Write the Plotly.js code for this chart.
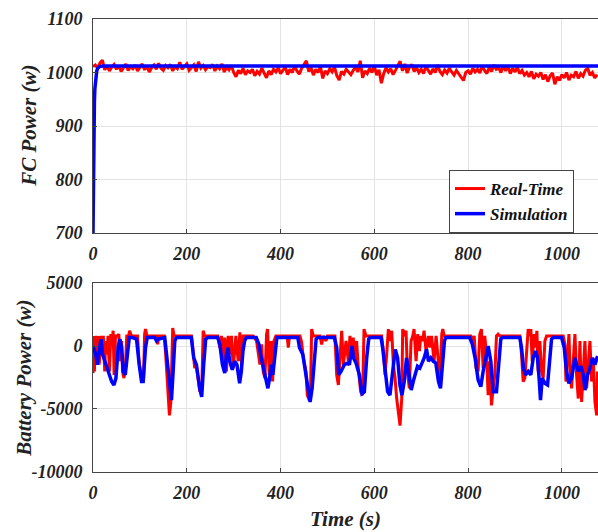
<!DOCTYPE html>
<html>
<head>
<meta charset="utf-8">
<script src="https://cdn.plot.ly/plotly-3.0.1.min.js"></script>
<style>html,body{margin:0;padding:0;background:#fff;}#chart{width:598px;height:532px;}</style>
</head>
<body>
<div id="chart"></div>
<script>
// ---------- DATA ----------
// FC power, real-time (sampled every 5 s from t = 0)
const fcSampleStep = 5;
const fcReal = [
  1011,1014,1008,1018,1023,1005,1012,1003,1010,1015,
  1006,1013,1002,1009,1016,1004,1011,1007,1014,1003,
  1010,1016,1005,1012,1001,1009,1014,1006,1017,1008,
  1004,1013,1009,1015,1003,1011,1007,1019,1006,1012,
  1016,1004,1010,1014,1002,1020,1008,1013,1005,1011,
  1009,1015,1003,1012,1007,1016,1001,1010,1005,1013,
  1000,992,1004,998,1008,996,1003,1000,1006,994,
  1002,997,1008,999,990,1003,996,1006,1001,1009,
  998,1004,1010,996,1006,1000,1012,1003,997,1008,
  1014,1022,1002,1009,995,1006,1000,1011,989,1003,
  998,1007,1001,1010,994,986,1002,997,1006,1000,
  996,1004,1010,1001,1022,990,1003,998,1008,1000,
  1012,995,1005,980,998,1009,1001,1007,996,1004,
  1013,1021,1003,1016,999,1010,1015,1002,1009,1000,
  1006,998,1011,1003,997,1007,1000,1014,1002,996,
  1005,999,1008,1001,995,1004,998,990,985,1000,
  1003,997,1008,1001,1006,999,1012,1004,998,1010,
  1002,1014,1006,1009,1000,1013,1003,1011,998,1008,
  1001,1010,998,1004,995,1000,992,1002,988,997,
  993,1000,987,996,983,994,999,978,992,985,
  996,990,1000,986,995,992,1002,989,998,993,
  1004,1008,995,1000,990,996
];
// FC power, simulation
const tFcSim = [0,1,2,3,4,6,8,10,14,20,1077];
const fcSim  = [700,830,900,945,970,993,1003,1008,1011,1012,1012];

// Battery power, real-time
const tBatReal = [0,1.5,3,5,7,9,11,13,15,17,20,22,25,27,30,32,35,38,40,43,45,48,52,55,58,61,63,66,69,72,76,78,82,95,98,101,104,108,110,112,115,136,138,140,152,155,158,160,163,166,168,170,173,210,214,217,220,224,228,232,235,238,266,270.5,274,277.6,281,284.7,288.3,291.9,295.4,299,304.7,309.7,313.2,316.8,320.3,341.7,348.8,356,359.5,363,366.6,370.2,372.3,375.9,379.4,383,385.8,390,414,416.5,419,441.4,445,448.5,454.2,457,461.3,464.2,466.3,469.9,484,487.7,491,497,500,516,519.7,523.3,526.8,530.4,534,539.6,544.6,548,551.6,555,558.7,562.2,565.8,570.8,575,578,582.2,615.6,619.2,622.8,626.3,629.9,633.4,637,640.6,644.1,647.7,651.2,654.8,658.4,660.5,664,667.6,670.5,674.7,678.3,681.9,684.7,689,692.5,696.1,699,703.2,706,710.3,715.3,718.9,722,727.4,731.7,736.7,740.2,743.8,746,748.8,805.7,810,813,817,821.3,824.9,828.4,832,835.5,839.1,842.7,846.2,849.8,853.3,856.9,860.5,864,867.6,910.3,913.9,917.4,921,924.5,928.1,931.7,933.8,936.6,940.9,943.8,946.6,949.5,953,956.6,960.1,963.7,967.3,1002.9,1006.4,1008.6,1012.1,1015,1017.8,1020.7,1024.2,1027.8,1031.3,1034.9,1038.5,1042,1045.6,1049.1,1052.7,1056.3,1059.8,1063.4,1066.9,1070.5,1074.1,1076];
const batReal = [-2150,800,-2020,400,800,-1210,800,-1480,-670,800,130,800,-2020,400,-670,800,-2020,940,130,1210,-2290,800,800,940,-1210,400,-2020,-2550,-1750,800,800,1210,800,800,-1210,-2020,-2690,-2550,940,1340,800,800,130,800,800,-670,-2820,-4440,-5510,-4440,-2020,1430,800,800,-670,-1750,-1480,-2820,-3630,-3360,1210,800,800,-130,800,-1480,670,-2020,800,-670,800,-1750,800,-1210,1080,-1480,800,800,400,-1480,130,-2020,-2550,940,1340,-2290,400,-2820,400,800,800,-130,800,800,270,-940,-2020,-3900,-4300,-3090,1340,800,800,130,800,400,800,800,-2290,-3090,-670,1210,-1480,400,-1210,800,-940,670,-1210,400,-1750,-3630,-3900,1340,800,800,-400,-2290,-670,1340,400,1210,-1480,-2550,-4170,-5240,-6320,-4170,1340,800,1210,-2020,-3360,400,800,1340,-1210,940,-400,800,400,1210,-400,800,-130,800,-1210,800,-1750,-2820,940,1340,800,800,400,800,-1750,-2020,940,1340,-1750,800,-670,-3900,-1210,-4710,-3360,-2290,800,940,800,800,-670,-2820,-2550,-940,1340,800,1340,-1210,940,-130,1210,-2020,400,-2020,-2550,400,800,800,130,-2820,-670,940,-2290,-3360,-1210,940,-2290,-4170,400,-4440,-2020,400,-3360,-1750,400,-2820,-940,-4440,-5510,-2020];

// Battery power, simulation
const tBatSim = [0,6,9,13.5,17,20.5,25.5,32.6,39.7,44.6,48.9,53.9,57.4,61,64.5,68.8,73,77.3,84.4,92.9,98.5,103.5,107,112,115.6,131.9,135.4,140,153,158,163.8,167.3,170.9,174.4,178,209.8,214.8,220.5,227.6,231.8,236,240.3,245,266,270.5,276,281,284.5,288,291.5,297,302,307,312.7,316.3,319.8,323.4,327,348.2,353.9,358.8,365.9,373,376.6,380.1,383.6,388.6,392.1,436.8,440.4,447.5,453.1,458.1,463,467.3,472.3,475.8,479.4,514.8,519.8,524,529,536,543.2,546.8,552.5,555.3,561,568,573.7,578.7,583.7,587.9,590.8,614.2,617.7,623.4,628.3,633.3,639,644.6,649.6,654.6,658.8,663.8,668.7,673,678.7,682.9,687.2,692.1,697.1,701.4,706.3,711.3,715.5,720.5,725.5,731.1,736.8,741.1,745.3,749.6,752.4,803.5,809.1,814.8,821.3,827,832,837,842.7,848.4,853.3,860.5,865.4,869.7,872.6,910.3,913.9,918.1,922.4,928.1,933.8,938.8,943.7,948,951.6,954.4,958,963.7,969.4,974.3,977.9,981.5,999.3,1005,1010,1015,1020.6,1027.8,1034.9,1040.6,1045.6,1049.1,1054.8,1059.8,1064.8,1070.5,1076];
const batSim = [0,-670,-1480,-400,540,-670,-1210,-1880,-2820,-3090,-2550,0,540,-130,-2020,-2290,-940,670,670,540,-1480,-2820,-2820,-130,670,670,400,560,670,-1210,-3360,-4300,-2020,400,670,670,-940,-1480,-3360,-4030,-1480,540,670,670,130,-1480,-2150,-670,-130,-1210,-1880,-1210,-1480,-2960,-2020,-400,400,670,670,130,-940,-2290,-3360,-2550,-1480,-2290,-130,670,670,-130,-670,-2020,-3360,-4440,-3360,-940,540,670,670,-130,-2290,-2020,-1480,-1350,-1480,0,-940,-1350,-2290,-3770,-3630,-940,540,670,670,-130,-2290,-3630,-3900,-2020,-270,-940,-3090,-3900,-2820,-940,-2020,-3500,-2820,-2290,-1610,-1750,-1350,-940,-270,-1210,-940,-1210,-1350,-2820,-3360,-1750,400,670,670,130,-940,-2690,-3230,-2020,-940,0,-1210,-3630,-3630,-1480,540,670,670,-130,-1750,-2290,-2020,-2290,-940,-400,-940,-2690,-4300,-2550,-2960,-3090,-940,540,670,670,-130,-2020,-2960,-2550,-940,-2020,-1610,-2290,-3500,-2290,-1750,-940,-1480,-800];

const xTicks = [0,200,400,600,800,1000];
const fcTicks = [700,800,900,1000,1100];
const batTicks = [-10000,-5000,0,5000];
const batTickText = ['-10000','-5000','0','5000'];
const seriesNames = ['Real-Time','Simulation'];

// ---------- PLOT ----------
const tFcReal = fcReal.map((_, i) => i * fcSampleStep);
const RED = '#ff0000', BLUE = '#0000ff';
const serif = 'Liberation Serif, Times New Roman, serif';
const tickFont = {family: serif, size: 18, color: '#222', weight: 'bold', style: 'italic'};
const titleFont = {family: serif, size: 21, color: '#222', weight: 'bold', style: 'italic'};

const traces = [
  {x: tFcReal, y: fcReal, xaxis: 'x', yaxis: 'y', type: 'scatter', mode: 'lines',
   name: seriesNames[0], legendgroup: 'rt', line: {color: RED, width: 3}},
  {x: tFcSim, y: fcSim, xaxis: 'x', yaxis: 'y', type: 'scatter', mode: 'lines',
   name: seriesNames[1], legendgroup: 'sim', line: {color: BLUE, width: 3.5}},
  {x: tBatReal, y: batReal, xaxis: 'x2', yaxis: 'y2', type: 'scatter', mode: 'lines',
   name: seriesNames[0], legendgroup: 'rt', showlegend: false, line: {color: RED, width: 3}},
  {x: tBatSim, y: batSim, xaxis: 'x2', yaxis: 'y2', type: 'scatter', mode: 'lines',
   name: seriesNames[1], legendgroup: 'sim', showlegend: false, line: {color: BLUE, width: 3.5}}
];

const axCommon = {
  showgrid: true, gridcolor: '#e3e3e3', gridwidth: 1,
  showline: true, linecolor: '#444', linewidth: 1,
  ticks: 'inside', ticklen: 4, tickcolor: '#444',
  tickfont: tickFont, zeroline: false, fixedrange: true
};

const layout = {
  width: 598, height: 532,
  margin: {l: 93, r: 0, t: 19, b: 60},
  paper_bgcolor: '#fff', plot_bgcolor: '#fff',
  showlegend: true,
  legend: {
    x: 0.705, y: 0.5276, xanchor: 'left', yanchor: 'bottom',
    bgcolor: '#fff', bordercolor: '#444', borderwidth: 1,
    font: {family: serif, size: 17, color: '#111', weight: 'bold', style: 'italic'},
    tracegroupgap: 0, itemwidth: 30
  },
  xaxis: Object.assign({}, axCommon, {
    domain: [0, 1], anchor: 'y', range: [0, 1077], tickvals: xTicks, mirror: true,
    ticklabelstandoff: 4
  }),
  yaxis: Object.assign({}, axCommon, {
    domain: [0.5276, 1], anchor: 'x', range: [700, 1100], tickvals: fcTicks,
    ticklabelstandoff: 6
  }),
  xaxis2: Object.assign({}, axCommon, {
    domain: [0, 1], anchor: 'y2', range: [0, 1077], tickvals: xTicks, mirror: true,
    ticklabelstandoff: 4,
    title: {text: 'Time (s)', standoff: 9, font: titleFont}
  }),
  yaxis2: Object.assign({}, axCommon, {
    domain: [0, 0.4172], anchor: 'x2', range: [-10000, 5000],
    tickvals: batTicks, ticktext: batTickText, ticklabelstandoff: 6
  }),
  annotations: [
    {text: 'FC Power (w)', xref: 'paper', yref: 'paper', x: -0.127, y: 0.7638,
     xanchor: 'center', yanchor: 'middle', textangle: -90, showarrow: false, font: titleFont},
    {text: 'Battery Power (w)', xref: 'paper', yref: 'paper', x: -0.137, y: 0.2075,
     xanchor: 'center', yanchor: 'middle', textangle: -90, showarrow: false, font: titleFont}
  ]
};

Plotly.newPlot('chart', traces, layout, {displayModeBar: false, staticPlot: true});
</script>
</body>
</html>
